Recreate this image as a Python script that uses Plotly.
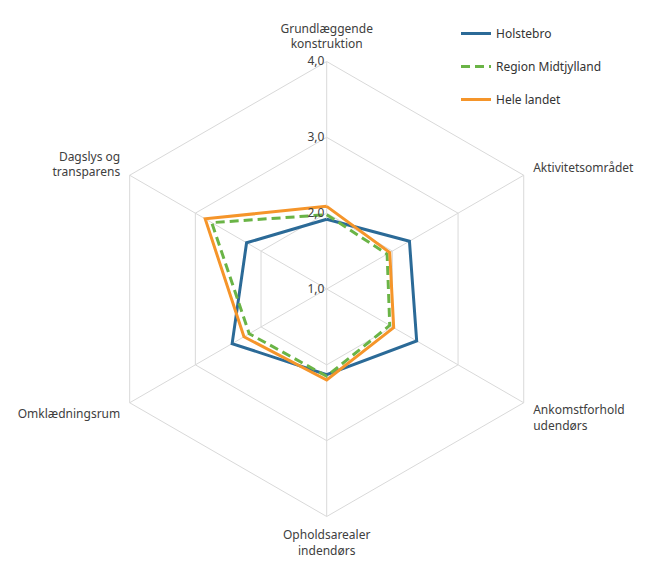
import plotly.graph_objects as go

categories = ["Grundlæggende<br>konstruktion", "Aktivitetsområdet", "Ankomstforhold<br>udendørs",
              "Opholdsarealer<br>indendørs", "Omklædningsrum", "Dagslys og<br>transparens"]
holstebro = [1.92, 2.26, 2.37, 2.13, 2.44, 2.22]
region = [1.98, 1.92, 1.96, 2.15, 2.18, 2.75]
hele_landet = [2.09, 1.96, 2.02, 2.20, 2.26, 2.85]
radial_ticks = [1, 2, 3, 4]

def closed(v):
    return v + v[:1]

fig = go.Figure()
fig.add_trace(go.Scatterpolar(r=closed(holstebro), theta=closed(categories), mode="lines",
                              name="Holstebro", legendgroup="a",
                              line=dict(color="#2b6a97", width=3)))
fig.add_trace(go.Scatterpolar(r=closed(region), theta=closed(categories), mode="lines",
                              name="Region Midtjylland", legendgroup="b",
                              line=dict(color="#6ab446", width=3, dash="9px,5px")))
fig.add_trace(go.Scatterpolar(r=closed(hele_landet), theta=closed(categories), mode="lines",
                              name="Hele landet", legendgroup="c",
                              line=dict(color="#f5952a", width=3)))

W, H = 646, 563
cx, cy, R = 326.7, 289, 227.5
fig.update_layout(
    width=W, height=H,
    margin=dict(l=0, r=0, t=0, b=0),
    paper_bgcolor="white",
    separators=",.",
    font=dict(family="Noto Sans, Liberation Sans, sans-serif", size=12, color="#404040"),
    polar=dict(
        domain=dict(x=[(cx - R) / W, (cx + R) / W], y=[(H - cy - R) / H, (H - cy + R) / H]),
        bgcolor="white",
        gridshape="linear",
        angularaxis=dict(rotation=90, direction="clockwise", showgrid=True, gridcolor="#d9d9d9",
                         gridwidth=1, showline=True, linecolor="#d9d9d9", linewidth=1,
                         ticks="outside", ticklen=8, tickcolor="rgba(0,0,0,0)",
                         tickfont=dict(size=12, color="#404040")),
        radialaxis=dict(range=[1, 4], tickvals=radial_ticks, tickformat=".1f", angle=90,
                        tickangle=90, showline=False, ticks="", gridcolor="#d9d9d9", gridwidth=1,
                        tickfont=dict(size=12, color="#404040"), side="counterclockwise"),
    ),
    legend=dict(x=456 / W, y=1 - 19 / H, xanchor="left", yanchor="top", tracegroupgap=14,
                font=dict(size=12, color="#333333"), bgcolor="rgba(0,0,0,0)"),
)
fig.write_html("out.html", config={"displayModeBar": False},
               post_script="document.body.style.margin='0';")
